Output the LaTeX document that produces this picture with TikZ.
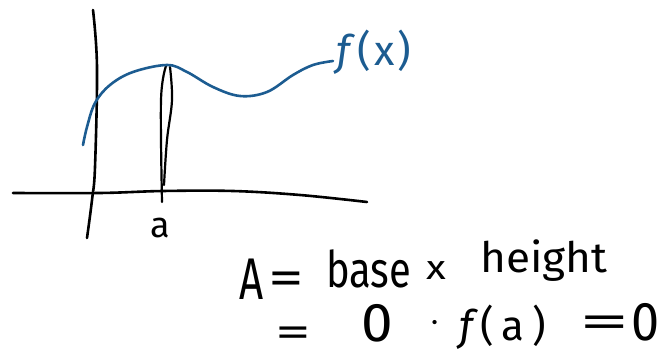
\documentclass[tikz,border=0pt]{standalone}
\usepackage{fontspec}
\usepackage{graphicx}
\setmainfont{Fira Sans}[Numbers=Lining]
\definecolor{curveblue}{RGB}{28,92,145}
\tikzset{
  ink/.style={line width=2.6pt, line cap=round, line join=round},
  hand/.style={inner sep=0pt, anchor=base west, font=\fontsize{42}{46}\selectfont},
  sym/.style={inner sep=0pt, anchor=center, font=\fontsize{42}{46}\selectfont},
}
\begin{document}
\begin{tikzpicture}[x=1pt,y=-1pt]
\useasboundingbox (0,0) rectangle (667,352);
% axes
\draw[ink] plot[smooth, tension=0.6] coordinates {(93,10) (97,67) (95,167) (92,200) (87,238)};
\draw[ink] plot[smooth, tension=0.6] coordinates {(13,193) (100,193) (163,191) (233,191) (300,195) (367,202)};
% thin sliver at a
\draw[ink, line width=2.2pt] plot[smooth, tension=0.6] coordinates {(166,66) (161,100) (162,202)};
\draw[ink, line width=2.2pt] plot[smooth, tension=0.6] coordinates {(170,67) (172,100) (167,140) (164,185)};
% curve
\draw[ink, curveblue] plot[smooth, tension=0.6] coordinates {(83,145) (87,127) (95,103) (110,85) (133,72) (167,65) (187,72) (213,87) (240,96) (267,92) (293,75) (313,65) (333,61)};
\node[hand, curveblue, font=\fontsize{40}{44}\selectfont] (fx) at (336,66) {\scalebox{1.05}[1.05]{\itshape f\upshape\hspace{7pt}(\hspace{3pt}x\hspace{3pt})}};
\node[hand, font=\fontsize{36}{40}\selectfont] (a) at (150,238) {a};
% formula line 1
\node[hand] (A) at (239,300) {\scalebox{1}[1.4]{A}};
\node[sym] (eq1) at (286,283) {\scalebox{1.7}[1.15]{=}};
\node[hand] (base) at (326,288) {\scalebox{0.95}[1.2]{base}};
\node[sym, font=\fontsize{34}{38}\selectfont] (times) at (436,271) {\scalebox{1.2}[1]{x}};
\node[hand] (height) at (480,273) {\scalebox{1.05}[1.0]{height}};
% formula line 2
\node[sym] (eq2) at (293,337) {\scalebox{1.7}[1.0]{=}};
\node[hand] (zero1) at (361,342) {\scalebox{1.35}[1.3]{0}};
\node[sym] (dot) at (435,324) {\scalebox{1.6}{$\cdot$}};
\node[hand] (fa) at (459,341) {\itshape f\upshape\hspace{7pt}(\hspace{8pt}a\hspace{8pt})};
\node[sym] (eq3) at (605,327) {\scalebox{2.4}[1.1]{=}};
\node[hand] (zero2) at (631,341) {\scalebox{1.2}[1.3]{0}};
\end{tikzpicture}
\end{document}
